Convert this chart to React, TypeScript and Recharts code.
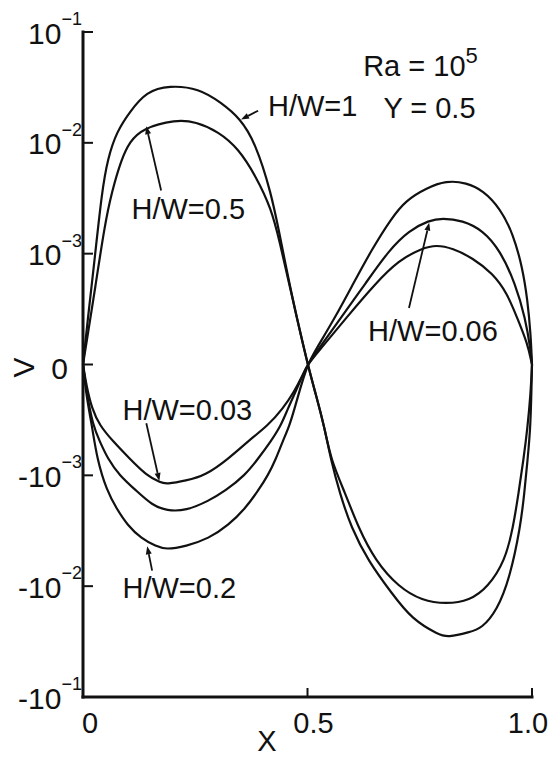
import React from 'react';
import { LineChart, Line, XAxis, YAxis, ReferenceDot, ReferenceLine } from 'recharts';

// V along X at Y = 0.5 (Ra = 1e5)
const HW_1: [number, number][] = [
  [0, 0], [0.009, 3.5e-4], [0.026, 9.5e-4], [0.042, 3.6e-3], [0.055, 7.2e-3], [0.075, 1.26e-2],
  [0.104, 1.9e-2], [0.141, 2.9e-2], [0.192, 3.3e-2], [0.258, 3.1e-2], [0.308, 2.3e-2], [0.35, 1.66e-2],
  [0.383, 1.02e-2], [0.419, 3.6e-3], [0.441, 1.29e-3], [0.463, 6.6e-4], [0.5, 0],
  [0.518, -2.6e-4], [0.538, -5.7e-4], [0.552, -8.6e-4], [0.572, -1.45e-3], [0.597, -2.95e-3],
  [0.635, -5.9e-3], [0.687, -1.15e-2], [0.733, -2.0e-2], [0.793, -2.75e-2], [0.812, -2.9e-2],
  [0.861, -2.6e-2], [0.888, -2.4e-2], [0.922, -1.66e-2], [0.951, -8.3e-3], [0.974, -2.95e-3],
  [0.983, -1.45e-3], [0.99, -8.6e-4], [0.997, -5.7e-4], [1, 0],
];

const HW_05: [number, number][] = [
  [0, 0], [0.011, 2.8e-4], [0.026, 6.6e-4], [0.048, 1.78e-3], [0.064, 3.6e-3], [0.086, 7.2e-3],
  [0.104, 1.02e-2], [0.132, 1.35e-2], [0.207, 1.62e-2], [0.251, 1.55e-2], [0.302, 1.26e-2],
  [0.346, 8.9e-3], [0.385, 5.0e-3], [0.419, 2.57e-3], [0.438, 1.29e-3], [0.463, 6.6e-4], [0.5, 0],
  [0.518, -2.6e-4], [0.538, -5.7e-4], [0.552, -8.6e-4], [0.584, -1.45e-3], [0.613, -2.95e-3],
  [0.651, -5.9e-3], [0.703, -1.02e-2], [0.755, -1.35e-2], [0.809, -1.45e-2], [0.861, -1.35e-2],
  [0.902, -1.02e-2], [0.94, -5.9e-3], [0.958, -2.95e-3], [0.97, -1.45e-3], [0.981, -8.6e-4],
  [0.99, -5.7e-4], [0.997, -2.6e-4], [1, 0],
];

const HW_02: [number, number][] = [
  [0, 0], [0.008, -3.0e-4], [0.02, -5.5e-4], [0.031, -8.5e-4], [0.053, -1.38e-3], [0.075, -2.0e-3],
  [0.099, -2.82e-3], [0.13, -3.72e-3], [0.163, -4.37e-3], [0.185, -4.68e-3], [0.229, -4.37e-3],
  [0.28, -3.72e-3], [0.324, -2.82e-3], [0.361, -2.0e-3], [0.39, -1.38e-3], [0.412, -1.0e-3],
  [0.43, -8.5e-4], [0.445, -6.9e-4], [0.46, -5.5e-4], [0.471, -4.0e-4], [0.482, -2.4e-4], [0.5, 0],
  [0.518, 1.3e-4], [0.561, 4.2e-4], [0.602, 7.3e-4], [0.642, 1.07e-3], [0.687, 2.09e-3],
  [0.719, 3.02e-3], [0.764, 3.89e-3], [0.809, 4.57e-3], [0.854, 4.37e-3], [0.891, 3.72e-3],
  [0.929, 2.57e-3], [0.958, 1.51e-3], [0.979, 8.7e-4], [0.99, 5.8e-4], [0.997, 2.8e-4], [1, 0],
];

const HW_006: [number, number][] = [
  [0, 0], [0.008, -2.5e-4], [0.022, -5.5e-4], [0.037, -6.9e-4], [0.055, -8.5e-4], [0.081, -1.0e-3],
  [0.119, -1.38e-3], [0.154, -1.86e-3], [0.187, -2.09e-3], [0.229, -2.09e-3], [0.28, -1.7e-3],
  [0.317, -1.38e-3], [0.361, -1.0e-3], [0.39, -8.5e-4], [0.419, -6.9e-4], [0.441, -5.5e-4],
  [0.456, -4.0e-4], [0.474, -2.4e-4], [0.489, -1.0e-4], [0.5, 0],
  [0.523, 1.3e-4], [0.574, 4.2e-4], [0.629, 7.3e-4], [0.681, 1.07e-3], [0.726, 1.62e-3],
  [0.771, 2.0e-3], [0.8, 2.09e-3], [0.845, 2.0e-3], [0.891, 1.62e-3], [0.929, 1.07e-3],
  [0.963, 7.3e-4], [0.985, 4.2e-4], [0.997, 1.3e-4], [1, 0],
];

const HW_003: [number, number][] = [
  [0, 0], [0.008, -2.0e-4], [0.02, -4.0e-4], [0.037, -5.5e-4], [0.066, -6.9e-4], [0.104, -8.5e-4],
  [0.141, -1.0e-3], [0.174, -1.17e-3], [0.185, -1.2e-3], [0.229, -1.12e-3], [0.273, -1.0e-3],
  [0.324, -8.5e-4], [0.368, -6.9e-4], [0.412, -5.5e-4], [0.445, -4.0e-4], [0.471, -2.4e-4],
  [0.489, -1.0e-4], [0.5, 0],
  [0.527, 1.3e-4], [0.586, 4.2e-4], [0.651, 7.3e-4], [0.703, 9.4e-4], [0.755, 1.12e-3],
  [0.787, 1.2e-3], [0.823, 1.12e-3], [0.868, 9.6e-4], [0.913, 8.2e-4], [0.945, 6.4e-4],
  [0.967, 4.2e-4], [0.99, 1.9e-4], [1, 0],
];

const SERIES = [HW_1, HW_05, HW_02, HW_006, HW_003];

const X_TICKS = [0, 0.5, 1];
const X_TICK_LABELS = ['0', '0.5', '1.0'];
const Y_TICK_VALUES = [-0.1, -0.01, -0.001, 0, 0.001, 0.01, 0.1];

// axis is linear inside +-1e-3, then one decade per unit
const LIN = 1e-3;
const toAxis = (v: number) => {
  const a = Math.abs(v);
  return a <= LIN ? v / LIN : Math.sign(v) * (Math.log10(a / LIN) + 1);
};
const toPoints = (pairs: [number, number][]) => pairs.map(([x, v]) => ({ x, y: toAxis(v) }));

const INK = '#111';
const FONT = "'Liberation Sans', Arial, sans-serif";
const X_TICK_NUDGE = [7, 6, -4];

// labels and arrows, placed in axis units
const NOTES = [
  { text: 'H/W=1', x: 0.412, y: 2.33 },
  { text: 'Y = 0.5', x: 0.669, y: 2.31 },
  { text: 'H/W=0.5', x: 0.108, y: 1.4 },
  { text: 'H/W=0.06', x: 0.635, y: 0.3 },
  { text: 'H/W=0.03', x: 0.088, y: -0.41 },
  { text: 'H/W=0.2', x: 0.088, y: -2.02 },
];
const ARROWS = [
  { from: [0.39, 2.29], to: [0.352, 2.21] },
  { from: [0.174, 1.57], to: [0.141, 2.15] },
  { from: [0.726, 0.51], to: [0.771, 1.28] },
  { from: [0.141, -0.53], to: [0.17, -1.05] },
  { from: [0.154, -1.86], to: [0.143, -1.64] },
];

const Arrow = (p: any) => {
  const { x1, y1, x2, y2 } = p;
  const dx = x2 - x1, dy = y2 - y1;
  const len = Math.hypot(dx, dy) || 1;
  const ux = dx / len, uy = dy / len;
  const bx = x2 - ux * 8, by = y2 - uy * 8;
  const pts = `${x2},${y2} ${bx - uy * 3},${by + ux * 3} ${bx + uy * 3},${by - ux * 3}`;
  return (
    <g>
      <line x1={x1} y1={y1} x2={bx} y2={by} stroke={INK} strokeWidth={1.8} />
      <polygon points={pts} fill={INK} />
    </g>
  );
};

const LeftTick = (p: any) => {
  const { x, y, payload } = p;
  const v = Y_TICK_VALUES.find((t) => Math.abs(toAxis(t) - payload.value) < 1e-6) ?? 0;
  const exp = v === 0 ? 0 : Math.round(Math.log10(Math.abs(v)));
  return (
    <g>
      <line x1={x} y1={y} x2={x + 10} y2={y} stroke={INK} strokeWidth={2} />
      {v === 0 ? (
        <text x={x - 15} y={y + 4} textAnchor="end" dominantBaseline="central"
          fontSize={30} fontFamily={FONT} fill={INK}>0</text>
      ) : (
        <text x={x - 1} y={y + 1} textAnchor="end" dominantBaseline="central"
          fontSize={30} fontFamily={FONT} fill={INK}>
          {v < 0 ? '-10' : '10'}
          <tspan dy={-14} fontSize={18}>{`\u2212${-exp}`}</tspan>
        </text>
      )}
    </g>
  );
};

const RightTick = (p: any) => (
  <line x1={p.x} y1={p.y} x2={p.x - 10} y2={p.y} stroke={INK} strokeWidth={2} />
);

const BottomTick = (p: any) => {
  const { x, y, index } = p;
  return (
    <g>
      <line x1={x} y1={y} x2={x} y2={y - 9} stroke={INK} strokeWidth={2} />
      <text x={x + X_TICK_NUDGE[index]} y={y + 26} textAnchor="middle" dominantBaseline="central"
        fontSize={29} fontFamily={FONT} fill={INK}>
        {X_TICK_LABELS[index]}
      </text>
    </g>
  );
};

const frame = { stroke: INK, strokeWidth: 3, strokeLinecap: 'square' as const };

export default function App() {
  return (
    <div style={{ position: 'absolute', left: 0, top: 0, background: '#fff' }}>
      <LineChart width={549} height={758} margin={{ top: 32, right: 17, bottom: 0, left: 0 }}>
        <XAxis dataKey="x" type="number" domain={[0, 1]} ticks={X_TICKS} interval={0}
          height={61} tickSize={0} tickMargin={0} tickLine={false} axisLine={frame} tick={BottomTick}
          label={(p: any) => (
            <text x={p.viewBox.x + 184} y={p.viewBox.y + 44} textAnchor="middle" dominantBaseline="central"
              fontSize={29} fontFamily={FONT} fill={INK}>X</text>
          )} />
        <XAxis xAxisId="top" orientation="top" type="number" domain={[0, 1]} height={0}
          tick={false} tickLine={false} axisLine={frame} />
        <YAxis type="number" domain={[-3, 3]} ticks={Y_TICK_VALUES.map(toAxis)} interval={0}
          width={83} tickSize={0} tickMargin={0} tickLine={false} axisLine={frame} tick={LeftTick}
          allowDataOverflow
          label={(p: any) => (
            <text x={23} y={p.viewBox.y + p.viewBox.height / 2 + 3} textAnchor="middle" dominantBaseline="central"
              fontSize={30} fontFamily={FONT} fill={INK}
              transform={`rotate(-90 23 ${p.viewBox.y + p.viewBox.height / 2 + 3})`}>V</text>
          )} />
        <YAxis yAxisId="right" orientation="right" type="number" domain={[-3, 3]}
          ticks={Y_TICK_VALUES.map(toAxis)} interval={0} width={0} tickSize={0} tickMargin={0}
          tickLine={false} axisLine={frame} tick={RightTick} allowDataOverflow />

        {SERIES.map((s, i) => (
          <Line key={i} data={toPoints(s)} dataKey="y" type="basis" stroke={INK}
            strokeWidth={2.2} dot={false} activeDot={false} isAnimationActive={false} />
        ))}

        {ARROWS.map((a, i) => (
          <ReferenceLine key={`a${i}`} segment={[{ x: a.from[0], y: a.from[1] }, { x: a.to[0], y: a.to[1] }]}
            shape={Arrow} />
        ))}
        {NOTES.map((n, i) => (
          <ReferenceDot key={`n${i}`} x={n.x} y={n.y} r={0}
            shape={(p: any) => (
              <text x={p.cx} y={p.cy} dominantBaseline="central" fontSize={29} fontFamily={FONT} fill={INK}>
                {n.text}
              </text>
            )} />
        ))}
        <ReferenceDot x={0.624} y={2.69} r={0}
          shape={(p: any) => (
            <text x={p.cx} y={p.cy} dominantBaseline="central" fontSize={29} fontFamily={FONT} fill={INK}>
              Ra = 10<tspan dy={-11} fontSize={22}>5</tspan>
            </text>
          )} />
      </LineChart>
    </div>
  );
}
